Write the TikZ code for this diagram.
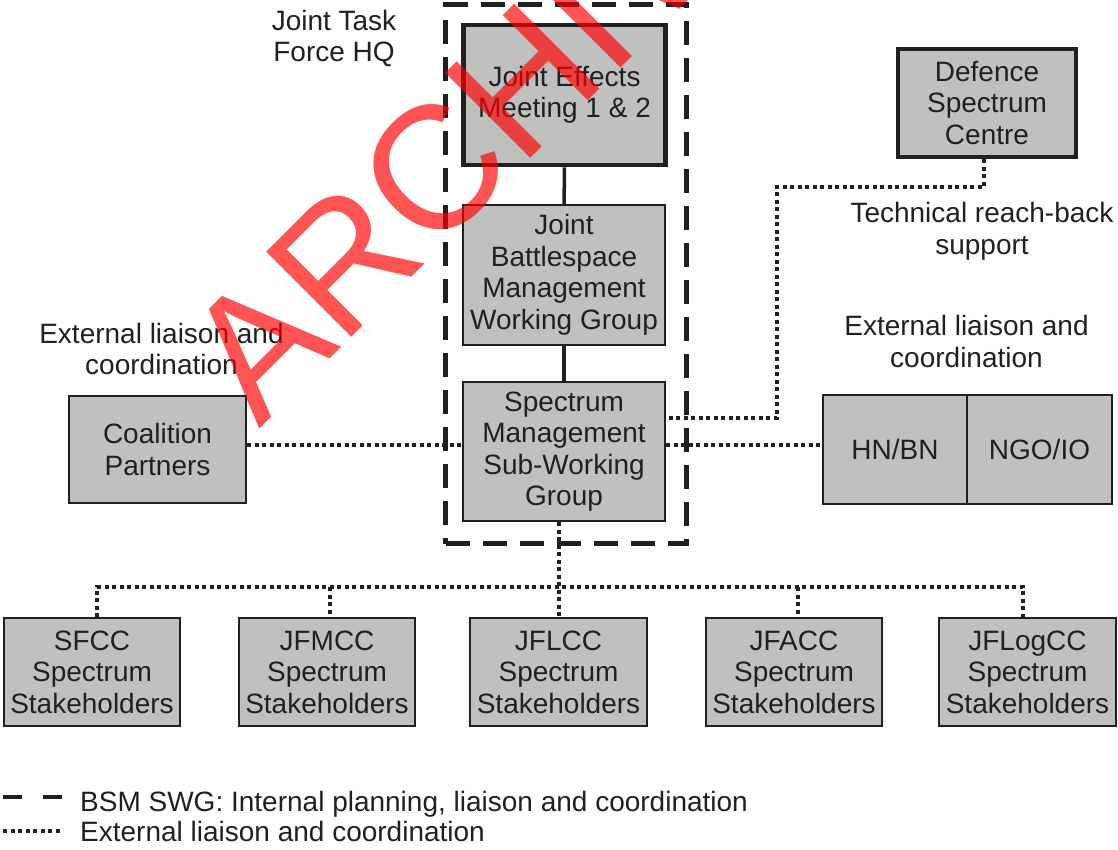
\documentclass[tikz,border=0pt]{standalone}
\usepackage{fontspec}
\setmainfont{Liberation Sans}
\definecolor{boxgray}{RGB}{192,192,192}
\definecolor{ink}{RGB}{35,31,32}

\begin{document}
\begin{tikzpicture}[x=1pt,y=-1pt,
  txt/.style={font=\fontsize{28}{31.5}\selectfont, text=ink, align=center, inner sep=0pt},
  note/.style={txt},
  unit/.style={txt, draw=ink, fill=boxgray, line width=2pt},
  keyunit/.style={unit, line width=4.5pt},
  stake/.style={unit, minimum width=176, minimum height=108},
  liaison/.style={draw=ink, line width=4pt, dash pattern=on 4pt off 3.5pt},
  internal/.style={draw=ink, line width=4.5pt, dash pattern=on 24pt off 13pt},
  solidlink/.style={draw=ink, line width=3.5pt}
]
\useasboundingbox (0,0) rectangle (1118,849);

% BSM SWG frame
\node[internal, minimum width=241, minimum height=539, inner sep=0pt] (swg) at (566,274) {};

% headquarters cells
\node[keyunit, minimum width=202, minimum height=140] (jem) at (564.5,95) {Joint Effects\\Meeting 1 \& 2};
\node[unit, minimum width=202, minimum height=140] (jbm) at (564,275) {Joint\\Battlespace\\Management\\Working Group};
\node[unit, minimum width=202, minimum height=139] (smswg) at (564,451.5) {Spectrum\\Management\\Sub-Working\\Group};

% outside organisations
\node[keyunit, minimum width=178, minimum height=108] (dsc) at (987,103) {Defence\\Spectrum\\Centre};
\node[unit, minimum width=177, minimum height=107] (coal) at (157.5,449.5) {Coalition\\Partners};
\node[unit, minimum width=144, minimum height=109] (hnbn) at (895,449.5) {HN/BN};
\node[unit, minimum width=145, minimum height=109] (ngo) at (1039.5,449.5) {NGO/IO};

% component stakeholders
\node[stake] (sfcc) at (92,672) {SFCC\\Spectrum\\Stakeholders};
\node[stake] (jfmcc) at (327,672) {JFMCC\\Spectrum\\Stakeholders};
\node[stake, minimum width=177] (jflcc) at (558.5,672) {JFLCC\\Spectrum\\Stakeholders};
\node[stake] (jfacc) at (794,672) {JFACC\\Spectrum\\Stakeholders};
\node[stake, minimum width=177] (jflogcc) at (1027.5,672) {JFLogCC\\Spectrum\\Stakeholders};

% free labels
\node[note] (jtf) at (334,38.5) {Joint Task\\Force HQ};
\node[note] (extL) at (161.5,349) {External liaison and\\coordination};
\node[note] (extR) at (966.5,341.5) {External liaison and\\coordination};
\node[note] (reach) at (982,231.5) {Technical reach-back\\support};

% internal chain
\draw[solidlink] (jem) -- (jbm);
\draw[solidlink] (jbm) -- (smswg);

% external liaison links
\coordinate (rowL) at (0,445);
\draw[liaison] (coal.east |- rowL) -- (smswg.west |- rowL);
\draw[liaison] (smswg.east |- rowL) -- (hnbn.west |- rowL);

\coordinate (rb) at (984,187);
\coordinate (rbturn) at (777,418);
\draw[liaison] (dsc.south -| rb) -- (rb) -| (rbturn) -- (smswg.east |- rbturn);

\coordinate (busW) at (97,587);
\coordinate (tapB) at (330,587);
\coordinate (bus) at (559,587);
\coordinate (tapD) at (798,587);
\coordinate (busE) at (1023,587);
\draw[liaison] (smswg.south -| bus) -- (jflcc.north -| bus);
\draw[liaison] (sfcc.north -| busW) -- (busW) -- (busE) -- (jflogcc.north -| busE);
\draw[liaison] (tapB) -- (jfmcc.north -| tapB);
\draw[liaison] (tapD) -- (jfacc.north -| tapD);

% key
\coordinate (keyA0) at (3,797);
\coordinate (keyA1) at (64,797);
\draw[internal, dash pattern=on 19pt off 21pt] (keyA0) -- (keyA1);
\node[note, anchor=base west] (keyAtxt) at (80,811) {BSM SWG: Internal planning, liaison and coordination};
\coordinate (keyB0) at (3,831);
\coordinate (keyB1) at (63,831);
\draw[liaison] (keyB0) -- (keyB1);
\node[note, anchor=base west] (keyBtxt) at (80,841) {External liaison and coordination};

% stamp
\begin{scope}
\clip (0,0) rectangle (1118,849);
\node[rotate=45, anchor=base west, inner sep=0pt, text=red, text opacity=0.67,
      font=\fontsize{175}{175}\selectfont] (stamp) at (259,430) {ARCHIVED};
\end{scope}
\end{tikzpicture}
\end{document}
